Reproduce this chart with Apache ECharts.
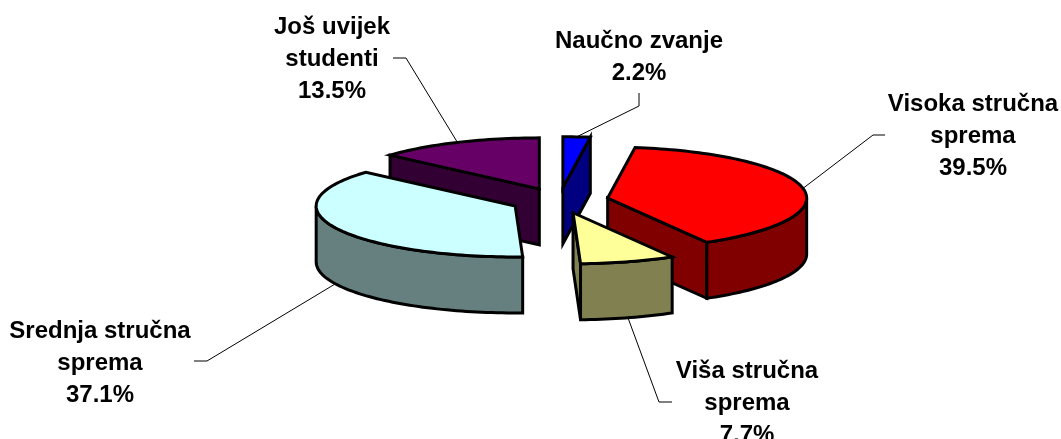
<!DOCTYPE html>
<html>
<head>
<meta charset="utf-8">
<style>html,body{margin:0;padding:0;background:#fff}#c{width:1061px;height:439px}</style>
<script src="https://cdn.jsdelivr.net/npm/echarts@6/dist/echarts.min.js"></script>
</head>
<body>
<div id="c"></div>
<script>
// Data
const categories = ['Naučno zvanje', 'Visoka stručna\nsprema', 'Viša stručna\nsprema', 'Srednja stručna\nsprema', 'Još uvijek\nstudenti'];
const shares = [2.2, 39.5, 7.7, 37.1, 13.5];

// Style
const topColors = ['#0000FF', '#FF0000', '#FFFF99', '#CCFFFF', '#660066'];
const sideColors = ['#000080', '#800000', '#808050', '#668080', '#330033'];
const paintOrder = [1, 2, 3, 4, 0]; // z-rank of each slice

// Layout of the tilted, exploded pie
const centerX = 559.5, centerY = 200.5, radiusX = 199, radiusY = 51, depth = 56, explodeX = 0.2465, explodeY = 0.25;
// Label anchors and leader-line elbows
const labelCenters = [[639, 57], [973, 136], [747, 403], [100, 363], [332, 59]];
const elbows = [[[639, 93], [639, 106]], [[885, 135], [873, 135]], [[672, 402], [659, 402]], [[194, 361], [207, 361]], [[393, 58], [406, 58]]];

const total = shares.reduce((a, b) => a + b, 0);
const rad = d => d * Math.PI / 180;

function renderSlice(params, api) {
  const i = params.dataIndex;
  const val = api.value(0);
  let before = 0;
  for (let k = 0; k < i; k++) before += shares[k];
  const a0 = before / total * 360, a1 = (before + val) / total * 360, mid = (a0 + a1) / 2;
  const ax = centerX + radiusX * explodeX * Math.sin(rad(mid));
  const ay = centerY - radiusY * explodeY * Math.cos(rad(mid));
  const rim = d => [ax + radiusX * Math.sin(rad(d)), ay - radiusY * Math.cos(rad(d))];
  const down = p => [p[0], p[1] + depth];
  const arc = (s, e) => { const out = []; const n = Math.max(2, Math.ceil((e - s) / 1.5)); for (let k = 0; k <= n; k++) out.push(rim(s + (e - s) * k / n)); return out; };
  const base = paintOrder[i] * 10;
  const edge = { stroke: '#000', lineWidth: 3, lineJoin: 'miter', miterLimit: 10 };
  const poly = (pts, fill, z) => ({ type: 'polygon', z2: base + z, shape: { points: pts }, style: Object.assign({ fill }, edge) });
  const apex = [ax, ay];
  const m = rim(mid), inner = [(ax + m[0]) / 2, (ay + m[1]) / 2];
  const children = [];
  // radial cut faces that look toward the viewer
  [a0, a1].forEach(d => {
    const p = rim(d), dx = p[0] - ax;
    if (Math.abs(dx) < 0.5) return;
    const lineY = ay + (inner[0] - ax) * (p[1] - ay) / dx;
    if (inner[1] < lineY) children.push(poly([apex, p, down(p), down(apex)], sideColors[i], 1));
  });
  // outer wall: the part of the rim on the near side
  const ws = Math.max(a0, 90), we = Math.min(a1, 270);
  if (we > ws) {
    const top = arc(ws, we);
    children.push(poly(top.concat(top.map(down).reverse()), sideColors[i], 2));
  }
  // top surface
  children.push(poly([apex].concat(arc(a0, a1)), topColors[i], 3));
  // leader line, from the middle of the slice's rim
  const nearSide = mid > 90 && mid < 270;
  const attach = nearSide ? down(m) : m;
  children.push({ type: 'polyline', z2: -1, shape: { points: elbows[i].concat([attach]) }, style: { stroke: '#000', lineWidth: 1, fill: null } });
  // label
  children.push({
    type: 'text', z2: 110,
    style: {
      text: categories[i] + '\n' + val.toFixed(1) + '%',
      x: labelCenters[i][0], y: labelCenters[i][1],
      align: 'center', verticalAlign: 'middle',
      fontFamily: 'Liberation Sans', fontWeight: 'bold', fontSize: 24, lineHeight: 32, fill: '#000'
    }
  });
  return { type: 'group', children };
}

const chart = echarts.init(document.getElementById('c'), null, { renderer: 'canvas' });
chart.setOption({
  animation: false,
  backgroundColor: '#fff',
  series: [{
    type: 'custom',
    coordinateSystem: 'none',
    renderItem: renderSlice,
    data: shares.map(v => [v])
  }]
});
</script>
</body>
</html>
